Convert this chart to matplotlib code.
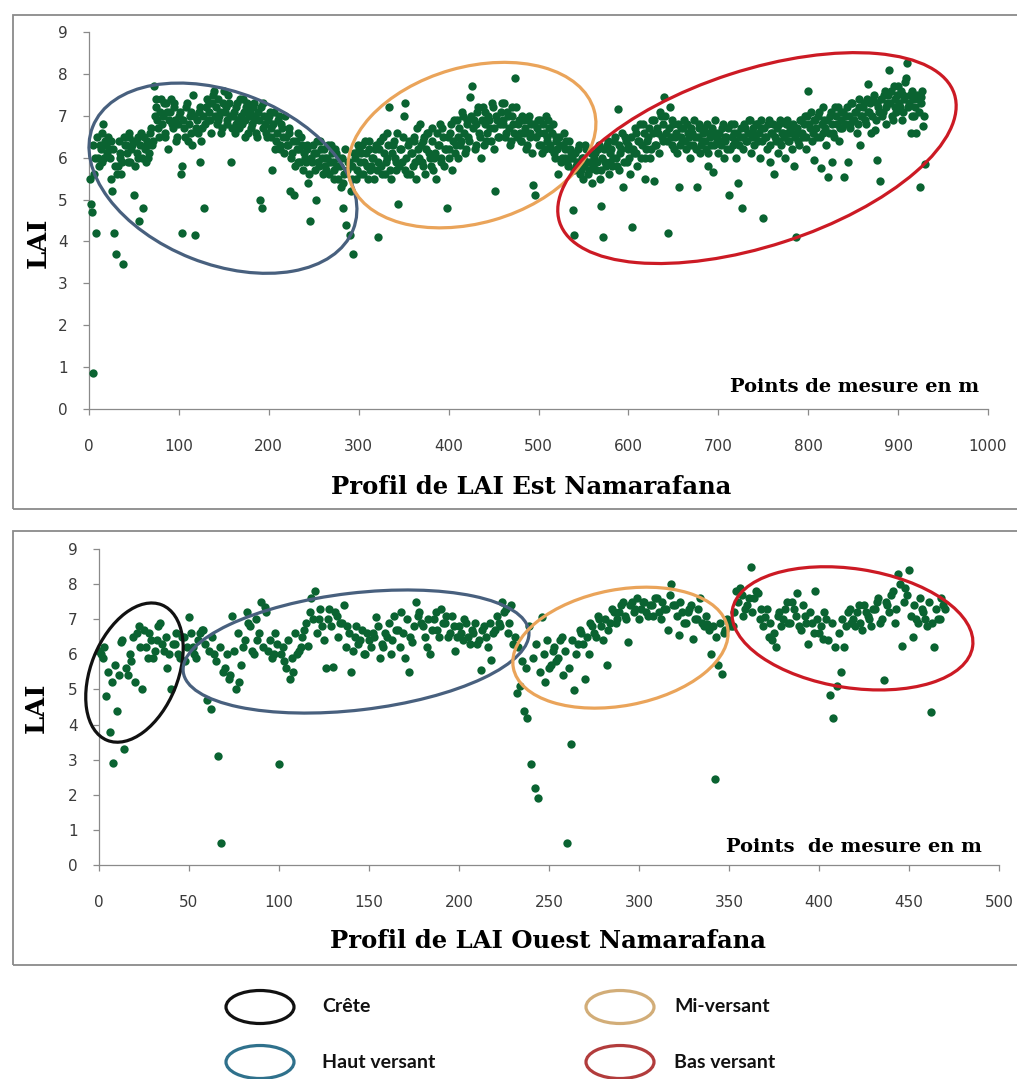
import numpy as np
import matplotlib
matplotlib.use("Agg")
import matplotlib.pyplot as plt
from matplotlib.patches import Ellipse, Rectangle
from matplotlib.transforms import ScaledTranslation

# ---------------- DATA ----------------
# East profile, even measurement points (2 .. 930 m)
est_x_even = np.arange(2, 931, 2)
est_lai_even = [
    4.9, 0.87, 5.6, 4.2, 6.0, 6.3, 5.9, 6.8, 6.4, 6.1,
    6.2, 6.4, 5.2, 4.2, 3.7, 5.8, 6.0, 5.6, 3.45, 6.3,
    6.1, 6.5, 5.9, 6.3, 5.1, 6.4, 6.0, 4.5, 6.6, 4.8,
    6.2, 6.4, 6.0, 6.6, 6.3, 7.7, 7.2, 6.9, 6.5, 7.4,
    7.0, 6.6, 7.3, 6.2, 7.1, 6.8, 7.3, 6.9, 6.5, 7.0,
    5.6, 4.2, 6.7, 7.2, 6.4, 7.0, 6.6, 7.5, 4.15, 6.9,
    7.1, 5.9, 6.7, 4.8, 7.2, 6.9, 7.3, 6.6, 7.5, 7.0,
    6.8, 7.4, 7.1, 6.7, 7.6, 7.2, 6.9, 7.3, 5.9, 7.0,
    6.6, 7.2, 6.9, 7.4, 6.8, 7.1, 6.5, 7.3, 7.0, 6.7,
    7.2, 6.9, 6.6, 7.1, 5.0, 4.8, 7.3, 6.8, 6.5, 7.0,
    6.7, 5.7, 7.1, 6.4, 6.9, 6.2, 6.8, 6.5, 7.0, 6.3,
    6.6, 5.2, 6.1, 5.1, 6.4, 5.9, 6.2, 6.5, 5.7, 6.0,
    6.3, 5.4, 4.5, 5.9, 6.1, 5.0, 6.4, 5.8, 6.2, 5.6,
    6.0, 5.7, 6.3, 5.9, 6.1, 5.5, 6.2, 5.8, 6.0, 5.3,
    4.8, 5.6, 4.4, 5.9, 4.15, 5.5, 3.7, 6.0, 5.7, 6.2,
    5.6, 6.3, 5.9, 6.1, 5.5, 6.4, 5.8, 6.0, 6.2, 5.7,
    4.1, 6.4, 5.6, 6.1, 5.9, 6.6, 7.2, 5.5, 6.3, 6.0,
    5.7, 4.9, 6.2, 5.9, 7.0, 7.3, 5.6, 6.4, 6.1, 5.8,
    6.5, 5.5, 6.2, 6.8, 5.9, 6.4, 5.6, 6.6, 6.1, 5.8,
    6.7, 6.0, 5.5, 6.3, 6.8, 5.9, 6.5, 6.2, 4.8, 6.0,
    6.6, 5.7, 6.9, 6.3, 6.0, 6.7, 6.4, 7.0, 6.1, 6.8,
    6.5, 7.45, 7.7, 6.9, 6.3, 7.1, 6.6, 6.0, 7.2, 6.8,
    6.4, 7.0, 6.7, 7.3, 6.2, 5.2, 6.9, 6.5, 7.1, 6.8,
    7.3, 6.6, 7.0, 6.3, 7.2, 6.8, 7.9, 6.5, 6.9, 6.4,
    7.0, 6.6, 6.2, 6.9, 6.5, 6.8, 5.35, 5.1, 6.7, 6.3,
    6.9, 6.1, 6.6, 7.0, 6.4, 6.7, 6.2, 6.8, 6.0, 6.5,
    5.6, 6.3, 6.0, 6.6, 6.2, 5.9, 6.4, 6.1, 4.75, 4.15,
    5.8, 6.2, 5.6, 6.0, 5.5, 6.3, 5.9, 5.7, 6.1, 5.4,
    6.0, 5.7, 6.2, 5.5, 4.85, 4.1, 5.9, 6.3, 5.6, 6.1,
    5.8, 6.4, 6.0, 7.15, 5.7, 6.2, 5.3, 6.5, 5.9, 6.3,
    5.6, 4.35, 6.1, 6.6, 5.8, 6.4, 6.0, 6.8, 5.5, 6.2,
    6.5, 6.0, 6.9, 5.45, 6.3, 6.7, 6.1, 7.0, 6.4, 7.45,
    6.6, 4.2, 7.2, 6.3, 6.8, 6.5, 6.1, 5.3, 6.7, 6.4,
    6.9, 6.2, 6.6, 6.0, 6.7, 6.3, 6.5, 5.3, 6.8, 6.1,
    6.4, 6.7, 6.2, 5.8, 6.6, 6.3, 5.65, 6.9, 6.5, 6.1,
    6.4, 6.7, 6.0, 6.5, 6.2, 5.1, 6.8, 6.3, 6.6, 6.0,
    5.4, 6.5, 4.8, 6.2, 6.7, 6.4, 6.9, 6.1, 6.6, 6.3,
    6.8, 6.4, 6.0, 6.7, 4.55, 6.5, 6.2, 6.9, 5.9, 6.6,
    5.6, 6.4, 6.1, 6.8, 6.3, 6.6, 6.0, 6.9, 6.4, 6.7,
    6.2, 5.8, 4.1, 6.6, 6.3, 6.9, 6.5, 7.0, 6.2, 7.6,
    6.7, 6.4, 5.95, 6.9, 6.5, 7.1, 5.75, 6.6, 6.9, 6.3,
    5.55, 7.0, 5.9, 6.6, 7.2, 6.8, 6.4, 7.1, 6.7, 5.55,
    7.0, 5.9, 6.8, 7.3, 6.9, 7.1, 6.6, 7.4, 6.3, 7.0,
    7.3, 6.8, 7.75, 7.1, 6.6, 7.4, 6.65, 5.95, 7.2, 5.45,
    7.0, 7.5, 6.8, 7.3, 8.1, 7.6, 6.9, 7.4, 7.1, 7.7,
    7.2, 6.9, 7.5, 7.8, 8.25, 7.3, 6.6, 7.6, 7.0, 6.6,
    7.4, 5.3, 7.45, 6.75, 5.85,
]
# East profile, odd measurement points (1 .. 929 m)
est_x_odd = np.arange(1, 930, 2)
est_lai_odd = [
    5.5, 4.7, 6.3, 6.0, 6.5, 5.8, 6.2, 6.6, 6.0, 6.3,
    6.5, 6.0, 5.5, 6.2, 5.8, 5.6, 6.4, 6.1, 5.9, 6.5,
    6.3, 5.9, 6.6, 6.2, 6.4, 5.8, 6.1, 6.5, 6.3, 6.0,
    6.5, 5.9, 6.3, 6.1, 6.7, 6.4, 7.0, 7.4, 6.7, 7.1,
    6.8, 7.3, 6.5, 7.1, 6.9, 7.4, 6.7, 7.2, 6.4, 6.8,
    7.1, 5.8, 6.9, 6.5, 7.3, 6.8, 7.1, 6.3, 7.0, 6.7,
    6.6, 7.2, 6.4, 7.0, 6.8, 7.4, 7.1, 6.9, 7.3, 7.6,
    7.2, 6.9, 7.0, 6.6, 7.3, 7.1, 6.8, 7.5, 7.0, 6.7,
    7.1, 6.8, 7.3, 6.7, 7.0, 7.4, 6.9, 7.2, 6.6, 7.1,
    6.8, 7.3, 7.0, 6.5, 6.9, 7.2, 6.7, 7.0, 6.6, 6.9,
    7.1, 6.5, 6.8, 6.2, 6.6, 7.0, 6.3, 6.7, 6.1, 6.5,
    6.3, 6.7, 6.0, 6.4, 5.8, 6.2, 6.6, 5.9, 6.3, 6.1,
    5.9, 6.2, 5.6, 6.0, 6.3, 5.7, 6.1, 5.9, 6.4, 6.0,
    6.2, 5.8, 6.0, 5.6, 6.3, 5.9, 5.7, 6.1, 5.5, 5.8,
    6.0, 5.4, 6.2, 5.7, 5.9, 5.2, 5.8, 6.1, 5.5, 6.3,
    5.9, 6.1, 5.6, 6.4, 5.8, 6.2, 5.7, 6.0, 5.5, 6.3,
    5.9, 6.2, 5.8, 6.5, 5.6, 6.0, 6.3, 5.7, 6.1, 6.4,
    5.9, 6.6, 5.8, 6.2, 6.5, 5.7, 6.0, 6.3, 5.6, 6.1,
    6.4, 5.9, 6.7, 6.0, 6.3, 5.8, 6.5, 6.2, 6.6, 6.0,
    6.4, 5.7, 6.1, 6.6, 6.3, 6.0, 6.7, 5.8, 6.2, 6.5,
    6.2, 6.8, 6.4, 6.1, 6.9, 6.5, 6.3, 7.1, 6.6, 6.2,
    6.9, 6.4, 7.0, 6.7, 6.2, 6.8, 7.2, 6.5, 6.9, 6.3,
    7.1, 6.6, 6.9, 6.4, 7.2, 6.7, 7.0, 6.5, 6.8, 7.3,
    6.9, 6.5, 7.1, 6.7, 6.4, 7.0, 6.6, 7.2, 6.8, 6.6,
    6.4, 6.9, 6.7, 6.3, 7.0, 6.6, 6.1, 6.8, 6.5, 6.9,
    6.6, 6.3, 6.8, 6.2, 6.5, 6.9, 6.3, 6.6, 6.1, 6.4,
    6.2, 6.5, 5.9, 6.3, 6.0, 6.4, 5.8, 6.2, 6.0, 5.7,
    6.1, 5.9, 6.3, 5.7, 6.0, 5.8, 6.2, 5.6, 5.9, 6.1,
    5.8, 6.1, 5.9, 6.3, 5.7, 6.0, 6.2, 5.8, 6.4, 5.9,
    6.2, 6.0, 6.5, 5.8, 6.3, 6.1, 6.6, 5.9, 6.4, 6.2,
    6.0, 6.5, 6.2, 6.7, 6.1, 6.4, 6.8, 6.3, 6.6, 6.0,
    6.4, 6.7, 6.2, 6.6, 6.9, 6.3, 6.6, 7.1, 6.5, 6.8,
    7.0, 6.4, 6.7, 6.5, 6.9, 6.2, 6.6, 6.8, 6.3, 6.5,
    6.7, 6.4, 6.8, 6.5, 6.3, 6.6, 6.9, 6.2, 6.5, 6.7,
    6.3, 6.6, 6.4, 6.8, 6.1, 6.5, 6.7, 6.3, 6.6, 6.4,
    6.6, 6.3, 6.8, 6.4, 6.5, 6.7, 6.2, 6.5, 6.8, 6.4,
    6.6, 6.3, 6.7, 6.5, 6.8, 6.4, 6.6, 6.9, 6.5, 6.7,
    6.5, 6.8, 6.6, 6.9, 6.4, 6.7, 6.5, 6.8, 6.3, 6.6,
    6.8, 6.5, 6.7, 6.4, 6.9, 6.6, 6.5, 6.8, 6.6, 6.4,
    6.6, 6.8, 6.5, 6.7, 6.4, 6.9, 6.6, 6.8, 6.5, 7.0,
    6.8, 7.1, 6.6, 6.9, 6.7, 7.0, 6.5, 6.8, 7.2, 6.7,
    6.9, 6.6, 7.1, 6.8, 6.5, 7.0, 7.2, 6.7, 6.9, 7.1,
    6.8, 7.2, 7.0, 6.7, 7.3, 6.9, 7.1, 6.8, 7.2, 7.0,
    7.2, 6.9, 7.4, 7.1, 7.3, 7.0, 7.5, 6.9, 7.3, 7.1,
    7.4, 7.1, 7.6, 7.2, 7.5, 7.3, 7.0, 7.7, 7.2, 7.5,
    7.3, 7.6, 7.1, 7.4, 7.9, 7.2, 7.5, 7.0, 7.4, 7.2,
    7.5, 7.1, 7.3, 7.6, 7.0,
]

# West profile, even measurement points (0 .. 470 m)
ouest_x_even = np.arange(0, 471, 2)
ouest_lai_even = [
    6.1, 5.9, 4.8, 3.8, 2.9, 4.4, 6.35, 3.3, 5.4, 5.8,
    5.2, 6.8, 5.0, 6.2, 6.6, 5.9, 6.4, 6.9, 6.1, 5.6,
    5.0, 6.3, 6.0, 6.5, 5.8, 7.05, 6.2, 5.9, 6.6, 6.7,
    4.7, 4.45, 6.0, 3.1, 0.62, 5.6, 5.3, 7.1, 5.0, 5.2,
    6.2, 7.2, 6.8, 6.0, 6.4, 7.5, 7.35, 6.1, 5.9, 6.6,
    2.87, 6.2, 5.6, 5.3, 5.5, 6.0, 6.2, 6.7, 6.25, 7.6,
    7.8, 7.0, 6.8, 5.6, 7.3, 5.65, 7.1, 6.9, 7.4, 6.8,
    5.5, 6.5, 6.3, 6.7, 6.0, 6.4, 6.6, 7.05, 5.9, 6.2,
    6.5, 6.0, 7.1, 6.7, 7.2, 5.9, 5.5, 6.35, 7.5, 7.2,
    6.8, 6.2, 6.0, 7.0, 6.7, 7.3, 6.9, 6.5, 7.1, 6.1,
    6.8, 6.4, 6.9, 6.3, 6.6, 6.3, 5.55, 6.8, 6.2, 5.85,
    6.7, 6.9, 7.5, 7.3, 6.9, 6.3, 4.9, 5.1, 4.4, 4.2,
    2.87, 2.2, 1.9, 7.05, 5.2, 5.6, 6.1, 5.8, 6.4, 5.4,
    0.62, 3.45, 4.98, 6.3, 6.6, 5.3, 6.0, 6.8, 6.5, 7.0,
    6.4, 5.7, 6.9, 7.2, 7.0, 7.4, 7.1, 6.35, 7.5, 7.3,
    7.0, 7.5, 7.2, 7.4, 7.1, 7.6, 7.0, 7.3, 6.7, 8.0,
    7.4, 6.55, 7.2, 6.9, 7.3, 6.45, 7.0, 7.6, 6.8, 6.85,
    6.0, 2.45, 5.7, 5.45, 6.7, 6.9, 6.8, 7.8, 7.9, 7.1,
    7.4, 8.5, 7.6, 7.75, 7.3, 7.05, 6.5, 6.4, 6.2, 7.2,
    7.0, 7.5, 6.9, 7.3, 7.75, 6.7, 7.1, 6.3, 6.9, 7.8,
    6.6, 6.45, 7.0, 4.85, 4.2, 5.1, 5.5, 6.2, 7.2, 6.9,
    6.8, 7.4, 6.7, 7.2, 7.0, 7.3, 7.5, 6.9, 5.26, 7.4,
    7.7, 6.9, 8.3, 6.25, 7.9, 8.4, 6.5, 7.0, 7.6, 7.2,
    6.8, 4.35, 6.2, 7.0, 7.6, 7.3,
]
# West profile, odd measurement points (1 .. 469 m)
ouest_x_odd = np.arange(1, 470, 2)
ouest_lai_odd = [
    6.0, 6.2, 5.5, 5.2, 5.7, 5.4, 6.4, 5.6, 6.0, 6.5,
    6.6, 6.2, 6.7, 5.9, 6.4, 6.1, 6.8, 6.3, 6.5, 6.0,
    6.3, 6.6, 5.9, 6.5, 6.2, 6.6, 6.0, 6.4, 6.7, 6.3,
    6.1, 6.5, 5.8, 6.2, 5.5, 6.0, 5.4, 6.1, 6.6, 5.7,
    6.4, 6.9, 6.1, 7.0, 6.6, 6.2, 7.2, 6.4, 6.0, 6.3,
    6.0, 5.8, 6.4, 5.9, 6.6, 6.1, 6.5, 6.9, 7.2, 7.0,
    6.6, 7.3, 6.4, 7.0, 6.8, 7.2, 6.5, 6.9, 6.2, 6.6,
    6.1, 6.8, 6.4, 6.0, 6.6, 6.2, 6.5, 6.8, 6.3, 6.6,
    6.9, 6.4, 6.7, 6.2, 6.6, 7.0, 6.5, 6.8, 7.1, 6.9,
    6.5, 7.0, 6.7, 7.2, 6.5, 6.9, 7.1, 6.6, 6.8, 6.5,
    6.6, 7.0, 6.5, 6.7, 6.9, 6.4, 6.7, 6.5, 6.9, 6.6,
    7.1, 6.8, 7.2, 6.6, 7.4, 6.5, 6.2, 5.8, 5.6, 6.8,
    5.9, 6.3, 5.5, 6.0, 6.4, 5.7, 6.2, 5.9, 6.5, 6.1,
    5.6, 6.4, 6.0, 6.7, 6.3, 6.5, 6.9, 6.6, 7.1, 6.8,
    7.0, 6.7, 7.3, 6.9, 7.2, 7.5, 7.0, 7.4, 7.2, 7.6,
    7.3, 7.5, 7.1, 7.4, 7.6, 7.2, 7.5, 7.3, 7.7, 7.4,
    7.1, 7.5, 6.9, 7.2, 7.4, 7.0, 7.3, 6.9, 7.1, 6.7,
    6.8, 6.5, 6.9, 6.6, 7.0, 6.8, 7.2, 7.5, 7.7, 7.3,
    7.6, 7.2, 7.8, 7.0, 6.8, 7.3, 6.9, 6.6, 7.1, 6.8,
    7.3, 6.9, 7.5, 7.1, 6.8, 7.4, 6.9, 7.2, 6.6, 7.0,
    6.8, 7.2, 6.4, 6.9, 6.2, 6.6, 7.0, 6.8, 7.3, 7.0,
    7.2, 6.9, 7.4, 7.1, 6.8, 7.3, 7.6, 7.0, 7.5, 7.2,
    7.8, 7.3, 8.0, 7.5, 7.7, 7.1, 7.4, 6.9, 7.3, 7.0,
    7.5, 6.9, 7.3, 7.0, 7.4,
]

est_xticks = list(range(0, 1001, 100))
ouest_xticks = list(range(0, 501, 50))
lai_ticks = list(range(0, 10))

# zone ellipses: (zone, centre x [m], centre LAI, width px, height px, angle deg)
zone_colors = {"Crête": "#111111", "Haut versant": "#48607e",
               "Mi-versant": "#eaa45a", "Bas versant": "#cc1a24"}
est_zones = [("Haut versant", 149, 5.51, 280, 172, -21.6),
             ("Mi-versant", 426, 6.30, 254, 156, 16),
             ("Bas versant", 743, 5.99, 415, 176, 18)]
ouest_zones = [("Crête", 19.7, 5.48, 146, 87, 68),
               ("Haut versant", 142.8, 6.08, 348, 117, 6.7),
               ("Mi-versant", 289.7, 6.19, 218, 116, 10.7),
               ("Bas versant", 418.6, 6.74, 243, 119, -8.7)]
legend_items = [("Crête", "#111111"), ("Mi-versant", "#d2ad78"),
                ("Haut versant", "#2f718c"), ("Bas versant", "#b23c3c")]

# ---------------- FIGURE ----------------
W, H = 1017, 1079
fig = plt.figure(figsize=(W / 100, H / 100), dpi=100)

def fx(px):
    return px / W

def fy(py):
    return 1 - py / H

# panel frames
for top, bot in [(15, 509), (531, 965)]:
    fig.add_artist(Rectangle((fx(13), fy(bot)), fx(1030) - fx(13), fy(top) - fy(bot),
                             transform=fig.transFigure, fill=False,
                             edgecolor="#8a8a8a", linewidth=1.3))

ax1 = fig.add_axes([fx(89), fy(409), fx(988) - fx(89), fy(32) - fy(409)])
ax2 = fig.add_axes([fx(99), fy(865), fx(999) - fx(99), fy(549) - fy(865)])

green = "#0a6331"
est_x = np.concatenate([est_x_even, est_x_odd])
est_lai = np.concatenate([est_lai_even, est_lai_odd])
ouest_x = np.concatenate([ouest_x_even, ouest_x_odd])
ouest_lai = np.concatenate([ouest_lai_even, ouest_lai_odd])
ax1.scatter(est_x, est_lai, s=36, color=green, linewidths=0, zorder=3, clip_on=False)
ax2.scatter(ouest_x, ouest_lai, s=36, color=green, linewidths=0, zorder=3, clip_on=False)

for ax, xt, xmax in [(ax1, est_xticks, 1000), (ax2, ouest_xticks, 500)]:
    ax.set_xlim(0, xmax)
    ax.set_ylim(0, 9)
    ax.set_xticks(xt)
    ax.set_yticks(lai_ticks)
    ax.spines["top"].set_visible(False)
    ax.spines["right"].set_visible(False)
    for s in ("left", "bottom"):
        ax.spines[s].set_color("#8a8a8a")
        ax.spines[s].set_linewidth(0.9)
    ax.tick_params(direction="out", length=4.5, width=0.9, color="#8a8a8a",
                   labelsize=11, labelcolor="#3a3a3a")
    ax.tick_params(axis="x", pad=17)
    ax.tick_params(axis="y", pad=11)
    ax.set_facecolor("none")

def draw_zones(ax, zones):
    for name, xc, yc, wpx, hpx, ang in zones:
        t = fig.dpi_scale_trans + ScaledTranslation(xc, yc, ax.transData)
        e = Ellipse((0, 0), wpx / 100, hpx / 100, angle=ang, transform=t,
                    fill=False, edgecolor=zone_colors[name], linewidth=2.3,
                    zorder=5, clip_on=False)
        ax.add_artist(e)

draw_zones(ax1, est_zones)
draw_zones(ax2, ouest_zones)

serif = dict(family="DejaVu Serif", weight="bold", color="black")
fig.text(fx(38), fy(243), "LAI", rotation=90, ha="center", va="center", fontsize=18.5, **serif)
fig.text(fx(36), fy(708), "LAI", rotation=90, ha="center", va="center", fontsize=18.5, **serif)
fig.text(fx(531), fy(487), "Profil de LAI Est Namarafana", ha="center", va="center",
         fontsize=17.5, **serif)
fig.text(fx(548), fy(941), "Profil de LAI Ouest Namarafana", ha="center", va="center",
         fontsize=17.5, **serif)
fig.text(fx(855), fy(387), "Points de mesure en m", ha="center", va="center",
         fontsize=14, **serif)
fig.text(fx(854), fy(847), "Points  de mesure en m", ha="center", va="center",
         fontsize=14, **serif)

# legend
leg_pos = [(260, 1007, 322), (620, 1007, 674), (260, 1062, 322), (620, 1062, 674)]
for (label, col), (ex, ey, tx) in zip(legend_items, leg_pos):
    fig.add_artist(Ellipse((fx(ex), fy(ey)), fx(68), 33 / H, transform=fig.transFigure,
                           fill=False, edgecolor=col, linewidth=2.3))
    fig.text(fx(tx), fy(ey), label, ha="left", va="center", fontsize=14,
             family="Lato", weight="bold", color="#111111")

fig.savefig("out.png", dpi=100)
